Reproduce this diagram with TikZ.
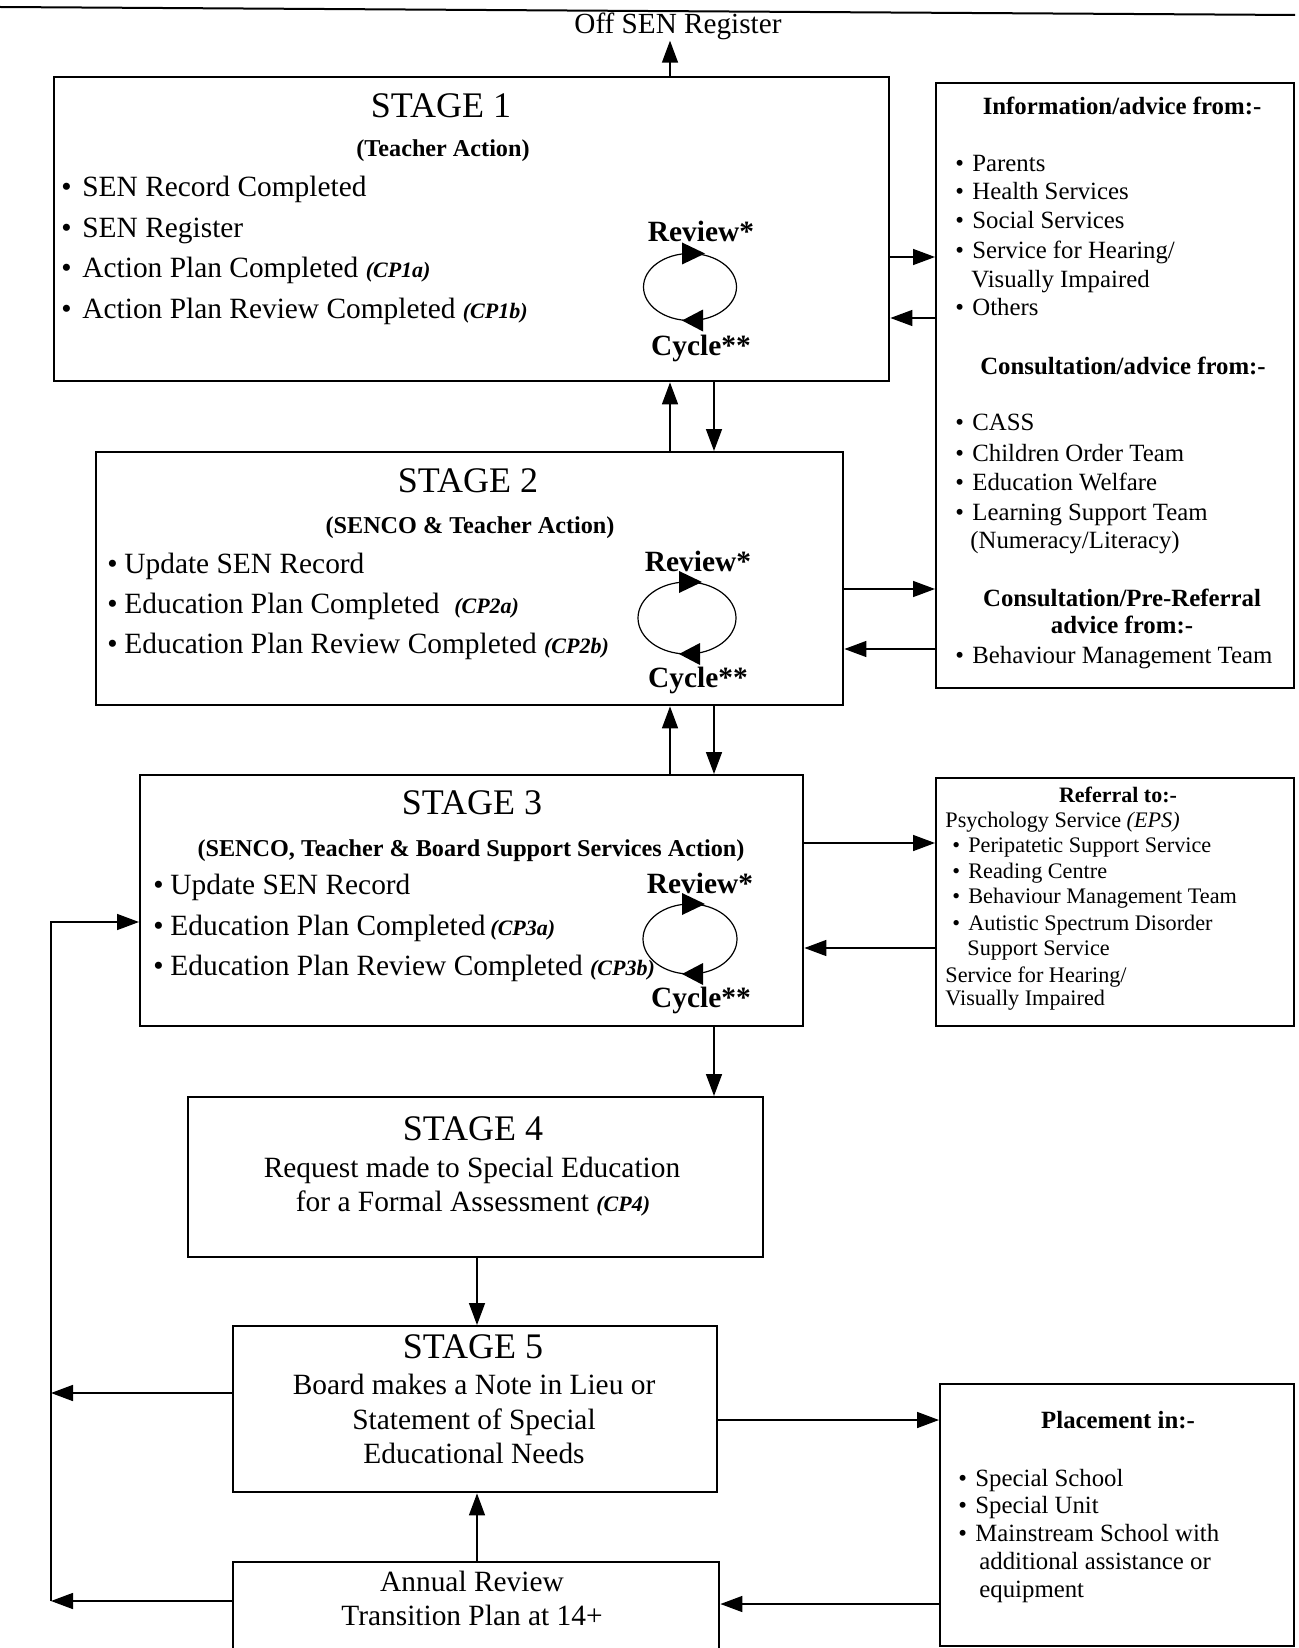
\documentclass[tikz,border=0pt]{standalone}
\usepackage{fontspec}
\setmainfont{Liberation Serif}
\usetikzlibrary{arrows.meta}
\newcommand\mybul[1]{\makebox[#1][l]{\textbullet}}
\newcommand\cpx[1]{{\fontsize{11}{12}\selectfont\bfseries\itshape #1}}
\begin{document}
\begin{tikzpicture}[x=0.5pt,y=-0.5pt,
 box/.style={draw,line width=1.2pt,inner sep=0pt,anchor=north west},
 arr/.style={line width=0.75pt,-{Triangle[length=11pt,width=8pt]}},
 ttl/.style={font=\fontsize{18}{20}\selectfont,anchor=base,inner sep=0pt},
 sub/.style={font=\bfseries\fontsize{12.1}{14}\selectfont,anchor=base,inner sep=0pt},
 itm/.style={font=\fontsize{14.7}{16}\selectfont,anchor=base west,inner sep=0pt},
 ctr/.style={font=\fontsize{14.7}{16}\selectfont,anchor=base,inner sep=0pt},
 cyc/.style={font=\bfseries\fontsize{14.7}{16}\selectfont,anchor=base,inner sep=0pt},
 sitm/.style={font=\fontsize{12.4}{14}\selectfont,anchor=base west,inner sep=0pt},
 shd/.style={font=\bfseries\fontsize{12.4}{14}\selectfont,anchor=base,inner sep=0pt},
 ritm/.style={font=\fontsize{11.1}{13}\selectfont,anchor=base west,inner sep=0pt},
 rhd/.style={font=\bfseries\fontsize{11}{13}\selectfont,anchor=base,inner sep=0pt},
 cyloop/.style={line width=0.6pt}]
\useasboundingbox (0,0) rectangle (1298,1648);
\fill[white] (0,0) rectangle (1298,1648);
\clip (0,0) rectangle (1298,1648);

% top rule
\draw[line width=1pt] (0,7) -- (1295,15);

% boxes
\node[box,minimum width=417.5pt,minimum height=152pt] (s1) at (53,76) {};
\node[box,minimum width=179pt,minimum height=302.5pt] (info) at (935,82) {};
\node[box,minimum width=373.5pt,minimum height=126.5pt] (s2) at (95,451) {};
\node[box,minimum width=331.5pt,minimum height=125.5pt] (s3) at (139,774) {};
\node[box,minimum width=179pt,minimum height=124pt] (refb) at (935,777) {};
\node[box,minimum width=287.5pt,minimum height=80pt] (s4) at (187,1096) {};
\node[box,minimum width=242pt,minimum height=83pt] (s5) at (232,1325) {};
\node[box,minimum width=177pt,minimum height=131pt] (place) at (939,1383) {};
\node[box,minimum width=243pt,minimum height=60pt] (ann) at (232,1561) {};

% top label
\node[ctr,font=\fontsize{14.6}{16}\selectfont] (off) at (678,34) {Off SEN Register};

% Stage 1
\node[ttl] (s1t) at (441,118) {STAGE 1};
\node[sub] (s1s) at (443,157) {(Teacher Action)};
\node[itm] (s1a) at (61,197) {\mybul{10.5pt}SEN Record Completed};
\node[itm] (s1b) at (61,238) {\mybul{10.5pt}SEN Register};
\node[itm] (s1c) at (61,278) {\mybul{10.5pt}Action Plan Completed \cpx{(CP1a)}};
\node[itm] (s1d) at (61,318) {\mybul{10.5pt}Action Plan Review Completed \cpx{(CP1b)}};
\node[cyc] (s1r) at (701,242) {Review*};
\node[cyc] (s1y) at (701,355) {Cycle**};

% Stage 2
\node[ttl] (s2t) at (468,492) {STAGE 2};
\node[sub] (s2s) at (470,533) {(SENCO \& Teacher Action)};
\node[itm] (s2a) at (107,573) {\mybul{8.5pt}Update SEN Record};
\node[itm] (s2b) at (107,613) {\mybul{8.5pt}Education Plan Completed \ \cpx{(CP2a)}};
\node[itm] (s2c) at (107,653) {\mybul{8.5pt}Education Plan Review Completed \cpx{(CP2b)}};
\node[cyc] (s2r) at (698,571) {Review*};
\node[cyc] (s2y) at (698,687) {Cycle**};

% Stage 3
\node[ttl] (s3t) at (472,814) {STAGE 3};
\node[sub] (s3s) at (471,856) {(SENCO, Teacher \& Board Support Services Action)};
\node[itm] (s3a) at (153,894) {\mybul{8.5pt}Update SEN Record};
\node[itm] (s3b) at (153,935) {\mybul{8.5pt}Education Plan Completed\,\cpx{(CP3a)}};
\node[itm] (s3c) at (153,975) {\mybul{8.5pt}Education Plan Review Completed \cpx{(CP3b)}};
\node[cyc] (s3r) at (700,893) {Review*};
\node[cyc] (s3y) at (701,1007) {Cycle**};

% Stage 4
\node[ttl] (s4t) at (473,1140) {STAGE 4};
\node[ctr] (s4a) at (472,1177) {Request made to Special Education};
\node[ctr] (s4b) at (473,1211) {for a Formal Assessment \cpx{(CP4)}};

% Stage 5
\node[ttl] (s5t) at (473,1358) {STAGE 5};
\node[ctr] (s5a) at (474,1394) {Board makes a Note in Lieu or};
\node[ctr] (s5b) at (474,1429) {Statement of Special};
\node[ctr] (s5c) at (474,1463) {Educational Needs};

% Annual review
\node[ctr] (ana) at (472,1591) {Annual Review};
\node[ctr] (anb) at (472,1625) {Transition Plan at 14+};

% Info box
\node[shd] (ih1) at (1122,115) {Information/advice from:-};
\node[sitm] (i1) at (955,172) {\mybul{8.5pt}Parents};
\node[sitm] (i2) at (955,200) {\mybul{8.5pt}Health Services};
\node[sitm] (i3) at (955,229) {\mybul{8.5pt}Social Services};
\node[sitm] (i4) at (955,258) {\mybul{8.5pt}Service for Hearing/};
\node[sitm] (i4b) at (971,287) {Visually Impaired};
\node[sitm] (i5) at (955,315) {\mybul{8.5pt}Others};
\node[shd] (ih2) at (1123,374) {Consultation/advice from:-};
\node[sitm] (i6) at (955,430) {\mybul{8.5pt}CASS};
\node[sitm] (i7) at (955,461) {\mybul{8.5pt}Children Order Team};
\node[sitm] (i8) at (955,490) {\mybul{8.5pt}Education Welfare};
\node[sitm] (i9) at (955,520) {\mybul{8.5pt}Learning Support Team};
\node[sitm] (i9b) at (970,548) {(Numeracy/Literacy)};
\node[shd] (ih3) at (1122,606) {Consultation/Pre-Referral};
\node[shd] (ih4) at (1122,633) {advice from:-};
\node[sitm] (i10) at (955,663) {\mybul{8.5pt}Behaviour Management Team};

% Referral box
\node[rhd] (rh) at (1118,802) {Referral to:-};
\node[ritm] (rf1) at (945,827) {Psychology Service \textit{(EPS)}};
\node[ritm] (rf2) at (952,852) {\mybul{8pt}Peripatetic Support Service};
\node[ritm] (rf3) at (952,878) {\mybul{8pt}Reading Centre};
\node[ritm] (rf4) at (952,903) {\mybul{8pt}Behaviour Management Team};
\node[ritm] (rf5) at (952,930) {\mybul{8pt}Autistic Spectrum Disorder};
\node[ritm] (rf5b) at (967,955) {Support Service};
\node[ritm] (rf6) at (945,982) {Service for Hearing/};
\node[ritm] (rf6b) at (945,1005) {Visually Impaired};

% Placement box
\node[shd] (ph) at (1118,1428) {Placement in:-};
\node[sitm] (p1) at (958,1486) {\mybul{8.5pt}Special School};
\node[sitm] (p2) at (958,1513) {\mybul{8.5pt}Special Unit};
\node[sitm] (p3) at (958,1541) {\mybul{8.5pt}Mainstream School with};
\node[sitm] (p3b) at (979,1569) {additional assistance or};
\node[sitm] (p3c) at (979,1597) {equipment};

% review cycles
\foreach \cx/\cy/\rx/\ry in {690/287/46.5/33.5, 687/618/49/36, 690/939/47/35}{
  \draw[cyloop] (\cx,\cy) ellipse [x radius=\rx*0.5pt, y radius=\ry*0.5pt];
  \fill (\cx-8,\cy-\ry-11) -- (\cx+15,\cy-\ry) -- (\cx-8,\cy-\ry+11) -- cycle;
  \fill (\cx+13,\cy+\ry-11) -- (\cx-8,\cy+\ry) -- (\cx+13,\cy+\ry+11) -- cycle;
}

% helper columns and rows
\coordinate (cU) at (670,0);
\coordinate (cD) at (714,0);
\coordinate (cM) at (477,0);
\coordinate (cL) at (51,0);
\coordinate (r1a) at (0,257);
\coordinate (r1b) at (0,318);
\coordinate (r2a) at (0,589);
\coordinate (r2b) at (0,649);
\coordinate (r3a) at (0,843);
\coordinate (r3b) at (0,948);
\coordinate (r3l) at (0,922);
\coordinate (r5l) at (0,1393);
\coordinate (r5r) at (0,1420);
\coordinate (ral) at (0,1601);
\coordinate (rar) at (0,1604);

% connectors
\draw[arr] (s1.north -| cU) -- (off.south -| cU);
\draw[arr] (s2.north -| cU) -- (s1.south -| cU);
\draw[arr] (s1.south -| cD) -- (s2.north -| cD);
\draw[arr] (s3.north -| cU) -- (s2.south -| cU);
\draw[arr] (s2.south -| cD) -- (s3.north -| cD);
\draw[arr] (s3.south -| cD) -- (s4.north -| cD);
\draw[arr] (s4.south -| cM) -- (s5.north -| cM);
\draw[arr] (ann.north -| cM) -- (s5.south -| cM);
\draw[arr] (s1.east |- r1a) -- (info.west |- r1a);
\draw[arr] (info.west |- r1b) -- (s1.east |- r1b);
\draw[arr] (s2.east |- r2a) -- (info.west |- r2a);
\draw[arr] (info.west |- r2b) -- (s2.east |- r2b);
\draw[arr] (s3.east |- r3a) -- (refb.west |- r3a);
\draw[arr] (refb.west |- r3b) -- (s3.east |- r3b);
\draw[arr] (s5.east |- r5r) -- (place.west |- r5r);
\draw[arr] (place.west |- rar) -- (ann.east |- rar);
\draw[arr] (s5.west |- r5l) -- (cL |- r5l);
\draw[arr] (ann.west |- ral) -- (cL |- ral);
\draw[arr] (cL |- ral) -- (cL |- r3l) -- (s3.west |- r3l);
\end{tikzpicture}
\end{document}
